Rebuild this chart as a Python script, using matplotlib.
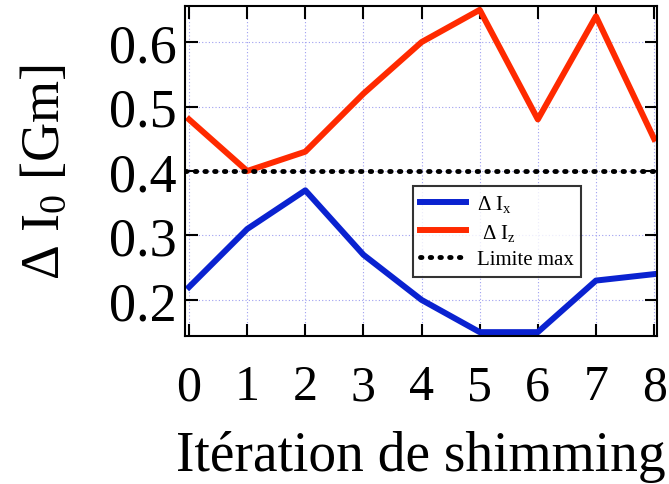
import matplotlib
matplotlib.use('Agg')
import matplotlib.pyplot as plt

iterations = [0, 1, 2, 3, 4, 5, 6, 7, 8]
delta_ix = [0.22, 0.31, 0.37, 0.27, 0.20, 0.15, 0.15, 0.23, 0.24]
delta_iz = [0.48, 0.40, 0.43, 0.52, 0.60, 0.65, 0.48, 0.64, 0.45]
limite_max = 0.4
yticks = [0.2, 0.3, 0.4, 0.5, 0.6]

plt.rcParams['font.family'] = ['Liberation Serif', 'DejaVu Serif']
plt.rcParams['mathtext.fontset'] = 'custom'
plt.rcParams['mathtext.rm'] = 'Liberation Serif'
plt.rcParams['mathtext.it'] = 'Liberation Serif:italic'

fig = plt.figure(figsize=(6.69, 4.85), dpi=100)
ax = fig.add_axes([185 / 669, 1 - 337 / 485, (657 - 185) / 669, (337 - 7) / 485])

ax.plot(iterations, delta_ix, color='#0a22d0', lw=4.3, label=r'$\Delta$ I$_{\mathregular{x}}$')
ax.plot(iterations, delta_iz, color='#ff2a00', lw=4.3, label=r' $\Delta$ I$_{\mathregular{z}}$')
ax.axhline(limite_max, color='black', lw=3.5, ls=(0, (0.3, 1.7)), dash_capstyle='round', label='Limite max')

ax.set_xlim(-0.07, 8.05)
ax.set_ylim(0.144, 0.656)
ax.set_xticks(iterations)
ax.set_yticks(yticks)
ax.set_yticklabels(['0.2', '0.3', '0.4', '0.5', '0.6'])
ax.grid(True, color='#9fa0f0', lw=0.8, ls=(0, (1, 2)))
ax.tick_params(direction='in', length=9, width=1.5, top=True, right=True)
ax.tick_params(axis='y', labelsize=39, pad=6)
ax.tick_params(axis='x', labelsize=36, pad=20)
for s in ax.spines.values():
    s.set_linewidth(1.5)

ax.set_xlabel('Itération de shimming', fontsize=40, labelpad=14)
ax.set_ylabel(r'$\Delta$ I$_{\mathregular{0}}$ [Gm]', fontsize=39, labelpad=28)

leg = ax.legend(loc='upper left', bbox_to_anchor=((413 - 185) / 472, (337 - 187) / 330),
                borderaxespad=0, fontsize=15, frameon=True, fancybox=False, edgecolor='black',
                handlelength=2.2, borderpad=0.35, labelspacing=0.35, handletextpad=0.5)
leg.get_frame().set_linewidth(1.5)

fig.savefig('out.png', dpi=100)
